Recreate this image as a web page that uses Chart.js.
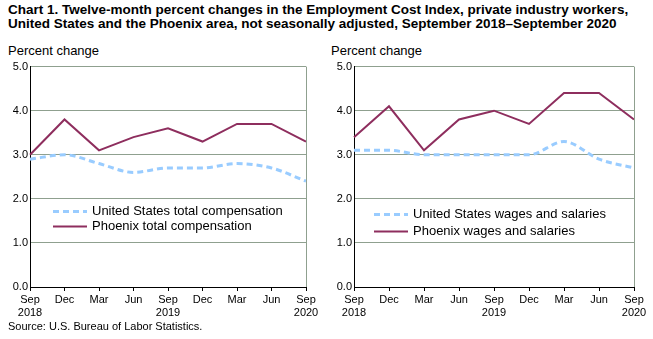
<!DOCTYPE html>
<html>
<head>
<meta charset="utf-8">
<script src="https://cdn.jsdelivr.net/npm/chart.js@4"></script>
<style>
  body { margin: 0; background: #fff; font-family: "Liberation Sans", Arial, sans-serif; color: #000; }
  #wrap { position: relative; width: 653px; height: 339px; overflow: hidden; }
  .title { position: absolute; left: 8px; top: 3px; font-family: "Liberation Sans Narrow", "Arial Narrow", sans-serif; font-weight: bold; font-size: 13.5px; line-height: 14px; }
  .ylab { position: absolute; top: 43px; font-size: 13px; }
  .src { position: absolute; left: 8px; top: 320px; font-size: 11px; }
  canvas { position: absolute; top: 58px; }
</style>
</head>
<body>
<div id="wrap">
  <div class="title">Chart 1. Twelve-month percent changes in the Employment Cost Index, private industry workers,<br>United States and the Phoenix area, not seasonally adjusted, September 2018–September 2020</div>
  <div class="ylab" style="left:8px">Percent change</div>
  <div class="ylab" style="left:331px">Percent change</div>
  <canvas id="left" width="325" height="266" style="left:0"></canvas>
  <canvas id="right" width="328" height="266" style="left:325px"></canvas>
  <div class="src">Source: U.S. Bureau of Labor Statistics.</div>
</div>
<script>
const quarters = [["Sep", "2018"], "Dec", "Mar", "Jun", ["Sep", "2019"], "Dec", "Mar", "Jun", ["Sep", "2020"]]
const yTicks   = [0, 1, 2, 3, 4, 5]

const usTotalComp      = [2.9, 3.0, 2.8, 2.6, 2.7, 2.7, 2.8, 2.7, 2.4]
const phoenixTotalComp = [3.0, 3.8, 3.1, 3.4, 3.6, 3.3, 3.7, 3.7, 3.3]
const usWages          = [3.1, 3.1, 3.0, 3.0, 3.0, 3.0, 3.3, 2.9, 2.7]
const phoenixWages     = [3.4, 4.1, 3.1, 3.8, 4.0, 3.7, 4.4, 4.4, 3.8]

const usColor      = "#99CCFF"
const phoenixColor = "#8E2E5E"
const gridColor    = "#8FA08F"

Chart.defaults.font.family = "'Liberation Sans', Arial, sans-serif"
Chart.defaults.color = "#000"

// legend drawn inside the plot, plus the grey right-hand border
const insideLegend = {
  id: "insideLegend",
  afterDraw(chart, args, opts) {
    const { ctx, chartArea } = chart
    ctx.save()
    ctx.strokeStyle = gridColor
    ctx.lineWidth = 1
    ctx.beginPath()
    ctx.moveTo(Math.round(chartArea.right) + 0.5, chartArea.top)
    ctx.lineTo(Math.round(chartArea.right) + 0.5, chartArea.bottom)
    ctx.stroke()

    ctx.font = "13px 'Liberation Sans', Arial, sans-serif"
    ctx.textBaseline = "middle"
    ctx.fillStyle = "#000"
    chart.data.datasets.forEach((ds, i) => {
      const y = chartArea.top + opts.y + i * opts.row
      const x0 = chartArea.left + opts.x
      ctx.strokeStyle = ds.borderColor
      ctx.lineWidth = ds.borderWidth
      ctx.setLineDash(ds.borderDash || [])
      ctx.beginPath()
      ctx.moveTo(x0, y)
      ctx.lineTo(x0 + 34, y)
      ctx.stroke()
      ctx.setLineDash([])
      ctx.fillText(ds.label, x0 + 39, y)
    })
    ctx.restore()
  }
}

function makeChart(id, usLabel, usData, phxLabel, phxData, yWidth, legendPos) {
  return new Chart(document.getElementById(id), {
    type: "line",
    data: {
      labels: quarters,
      datasets: [
        {
          label: usLabel,
          data: usData,
          borderColor: usColor,
          borderWidth: 3,
          borderDash: [6, 4],
          pointRadius: 0,
          cubicInterpolationMode: "monotone",
          fill: false
        },
        {
          label: phxLabel,
          data: phxData,
          borderColor: phoenixColor,
          borderWidth: 2,
          pointRadius: 0,
          tension: 0,
          fill: false
        }
      ]
    },
    options: {
      responsive: false,
      animation: false,
      layout: { padding: { top: 4, right: 19, left: 0, bottom: 0 } },
      plugins: {
        legend:  { display: false },
        tooltip: { enabled: false },
        insideLegend: legendPos
      },
      scales: {
        x: {
          offset: false,
          grid:   { drawOnChartArea: false, drawTicks: true, tickLength: 4, color: "#000" },
          border: { color: "#000", width: 1 },
          ticks:  { font: { size: 11 }, padding: 2, maxRotation: 0, autoSkip: false },
          afterFit: scale => { scale.height = 37 }
        },
        y: {
          min: 0,
          max: 5,
          afterBuildTicks: scale => { scale.ticks = yTicks.map(v => ({ value: v })) },
          grid:   { color: gridColor, drawTicks: false },
          border: { color: "#000", width: 1 },
          ticks:  { font: { size: 11 }, padding: 2, callback: v => v.toFixed(1) },
          afterFit: scale => { scale.width = yWidth }
        }
      }
    },
    plugins: [insideLegend]
  })
}

makeChart("left",  "United States total compensation", usTotalComp,
                   "Phoenix total compensation", phoenixTotalComp, 30, { x: 23, y: 145, row: 15 })
makeChart("right", "United States wages and salaries", usWages,
                   "Phoenix wages and salaries", phoenixWages, 29, { x: 20, y: 148, row: 17 })
</script>
</body>
</html>
